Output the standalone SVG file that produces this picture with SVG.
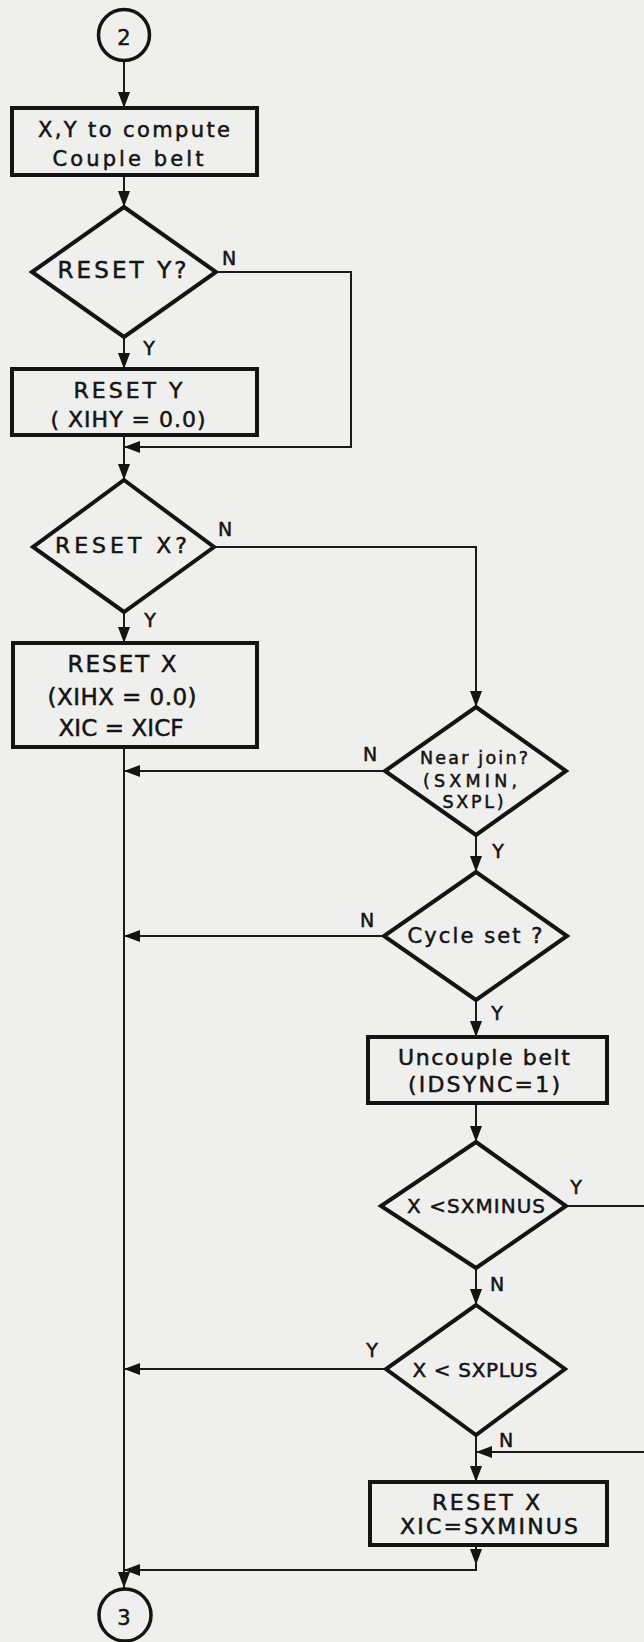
<svg xmlns="http://www.w3.org/2000/svg" width="644" height="1642" viewBox="0 0 644 1642">
<style>
.bg{fill:#efefed}
.shape{fill:none;stroke:#141414;stroke-width:4;stroke-linejoin:miter}
.term{fill:none;stroke:#141414;stroke-width:3.5}
.conn{fill:none;stroke:#1a1a1a;stroke-width:2}
text{font-family:"DejaVu Sans","Liberation Sans",sans-serif;fill:#141414;stroke:#141414;stroke-width:0.5;text-anchor:middle}
.t23{font-size:23px}
.t22{font-size:22px}
.t21{font-size:21px}
.t20{font-size:20px}
.t17{font-size:17.5px}
.lbl{font-size:19px}
</style>
<defs>
<marker id="ah" markerUnits="userSpaceOnUse" markerWidth="17" markerHeight="13" refX="16" refY="6" orient="auto">
<path d="M0,0 L16,6 L0,12 z" fill="#141414"/>
</marker>
</defs>
<rect class="bg" x="0" y="0" width="644" height="1642"/>

<g id="connectors">
<path class="conn" d="M124,62 V108" marker-end="url(#ah)"/>
<path class="conn" d="M124,175 V207" marker-end="url(#ah)"/>
<path class="conn" d="M124,337 V369" marker-end="url(#ah)"/>
<path class="conn" d="M216,272 H351 V447 H124" marker-end="url(#ah)"/>
<path class="conn" d="M124,435 V480" marker-end="url(#ah)"/>
<path class="conn" d="M214,547 H476 V707" marker-end="url(#ah)"/>
<path class="conn" d="M124,612 V643" marker-end="url(#ah)"/>
<path class="conn" d="M124,747 V1588" marker-end="url(#ah)"/>
<path class="conn" d="M385,771 H124" marker-end="url(#ah)"/>
<path class="conn" d="M476,835 V872" marker-end="url(#ah)"/>
<path class="conn" d="M384,936 H124" marker-end="url(#ah)"/>
<path class="conn" d="M476,1000 V1037" marker-end="url(#ah)"/>
<path class="conn" d="M476,1103 V1142" marker-end="url(#ah)"/>
<path class="conn" d="M566,1206 H660 V1452 H476" marker-end="url(#ah)"/>
<path class="conn" d="M476,1268 V1305" marker-end="url(#ah)"/>
<path class="conn" d="M386,1369 H124" marker-end="url(#ah)"/>
<path class="conn" d="M476,1435 V1482" marker-end="url(#ah)"/>
<path class="conn" d="M476,1545 V1565" marker-end="url(#ah)"/>
<path class="conn" d="M476,1560 V1570 H124" marker-end="url(#ah)"/>
</g>

<g id="start2">
<circle class="term" cx="124" cy="35" r="25.5"/>
<text class="t21" x="124" y="45">2</text>
</g>

<g id="computeXY">
<rect class="shape" x="12" y="108" width="245" height="67"/>
<text class="t21" x="134" y="137" textLength="192" lengthAdjust="spacing">X,Y to compute</text>
<text class="t21" x="128" y="166" textLength="151" lengthAdjust="spacing">Couple belt</text>
</g>

<g id="resetYq">
<polygon class="shape" points="124,207 216,272 124,337 32,272"/>
<text class="t23" x="122" y="278" textLength="129" lengthAdjust="spacing">RESET Y?</text>
<text class="lbl" x="229" y="265">N</text>
<text class="lbl" x="149" y="355">Y</text>
</g>

<g id="resetY">
<rect class="shape" x="12" y="369" width="245" height="66"/>
<text class="t22" x="128" y="398" textLength="109" lengthAdjust="spacing">RESET Y</text>
<text class="t22" x="128" y="427" textLength="155" lengthAdjust="spacing">( XIHY = 0.0)</text>
</g>

<g id="resetXq">
<polygon class="shape" points="124,480 214,547 124,612 33,547"/>
<text class="t22" x="121" y="553" textLength="132" lengthAdjust="spacing">RESET X?</text>
<text class="lbl" x="225" y="536">N</text>
<text class="lbl" x="150" y="627">Y</text>
</g>

<g id="resetX">
<rect class="shape" x="13" y="643" width="244" height="104"/>
<text class="t23" x="122" y="672" textLength="109" lengthAdjust="spacing">RESET X</text>
<text class="t23" x="122" y="705" textLength="149" lengthAdjust="spacing">(XIHX = 0.0)</text>
<text class="t23" x="121" y="736" textLength="125" lengthAdjust="spacing">XIC = XICF</text>
</g>

<g id="nearJoin">
<polygon class="shape" points="476,707 566,771 476,835 385,771"/>
<text class="t17" x="474" y="764" textLength="108" lengthAdjust="spacing">Near join?</text>
<text class="t17" x="470" y="787" textLength="94" lengthAdjust="spacing">(SXMIN,</text>
<text class="t17" x="473" y="808" textLength="61" lengthAdjust="spacing">SXPL)</text>
<text class="lbl" x="370" y="761">N</text>
<text class="lbl" x="498" y="858">Y</text>
</g>

<g id="cycleSet">
<polygon class="shape" points="476,872 567,936 476,1000 384,936"/>
<text class="t21" x="475" y="943" textLength="135" lengthAdjust="spacing">Cycle set ?</text>
<text class="lbl" x="367" y="927">N</text>
<text class="lbl" x="497" y="1020">Y</text>
</g>

<g id="uncouple">
<rect class="shape" x="368" y="1037" width="239" height="66"/>
<text class="t22" x="484" y="1065" textLength="172" lengthAdjust="spacing">Uncouple belt</text>
<text class="t22" x="484" y="1092" textLength="152" lengthAdjust="spacing">(IDSYNC=1)</text>
</g>

<g id="xLessMinus">
<polygon class="shape" points="476,1142 566,1206 476,1268 381,1206"/>
<text class="t20" x="476" y="1213" textLength="138" lengthAdjust="spacing">X &lt;SXMINUS</text>
<text class="lbl" x="576" y="1194">Y</text>
<text class="lbl" x="497" y="1291">N</text>
</g>

<g id="xLessPlus">
<polygon class="shape" points="476,1305 565,1369 476,1435 386,1369"/>
<text class="t20" x="475" y="1377" textLength="125" lengthAdjust="spacing">X &lt; SXPLUS</text>
<text class="lbl" x="372" y="1357">Y</text>
<text class="lbl" x="506" y="1447">N</text>
</g>

<g id="resetX2">
<rect class="shape" x="370" y="1482" width="237" height="63"/>
<text class="t22" x="486" y="1510" textLength="108" lengthAdjust="spacing">RESET X</text>
<text class="t22" x="489" y="1534" textLength="178" lengthAdjust="spacing">XIC=SXMINUS</text>
</g>

<g id="end3">
<circle class="term" cx="125" cy="1615" r="26"/>
<text class="t21" x="124" y="1625">3</text>
</g>
</svg>
